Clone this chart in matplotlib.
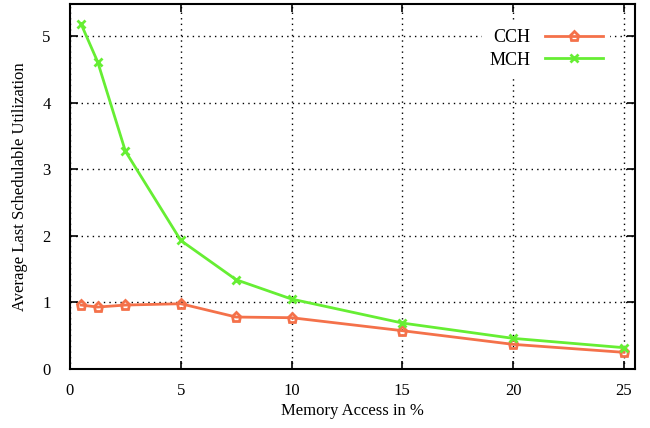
import matplotlib
matplotlib.use("Agg")
import matplotlib.pyplot as plt

x_vals = [0.5, 1.25, 2.5, 5, 7.5, 10, 15, 20, 25]
cch = [0.96, 0.93, 0.96, 0.98, 0.78, 0.77, 0.575, 0.37, 0.25]
mch = [5.18, 4.61, 3.27, 1.93, 1.34, 1.05, 0.69, 0.46, 0.32]
x_ticks = [0, 5, 10, 15, 20, 25]
y_ticks = [0, 1, 2, 3, 4, 5]

plt.rcParams['font.family'] = ['Liberation Serif', 'DejaVu Serif']

fig = plt.figure(figsize=(6.5, 4.28), dpi=100)
ax = fig.add_axes([70/650, 59/428, 565/650, 365/428])

ax.plot(x_vals, cch, color='#F4714A', lw=2, marker='p', ms=6.5, mfc='none',
        mec='#F4714A', mew=2, label='CCH', zorder=3)
ax.plot(x_vals, mch, color='#66EE33', lw=2, marker='x', ms=6,
        mew=2, label='MCH', zorder=3)

ax.set_xlim(0, 25.5)
ax.set_ylim(0, 5.48)
ax.set_xticks(x_ticks)
ax.set_yticks(y_ticks)
ax.grid(True, color='black', linestyle=(0, (1, 3)), linewidth=1)
ax.tick_params(direction='in', length=6, width=1.2, top=True, right=True, labelsize=12)
ax.tick_params(axis='x', pad=10)
ax.tick_params(axis='y', pad=14)
for s in ax.spines.values():
    s.set_linewidth(1.5)

ax.set_xlabel('Memory Access in %', fontsize=12, labelpad=3)
ax.set_ylabel('Average Last Schedulable Utilization', fontsize=12, labelpad=10)

leg = ax.legend(loc='upper right', markerfirst=False, frameon=True,
                fontsize=13, handlelength=3.2, borderaxespad=0.6,
                bbox_to_anchor=(0.975, 0.98), labelspacing=0.3)
leg.get_frame().set_facecolor('white')
leg.get_frame().set_edgecolor('none')
leg.get_frame().set_alpha(1)
leg.set_zorder(5)

fig.savefig('out.png', dpi=100)
